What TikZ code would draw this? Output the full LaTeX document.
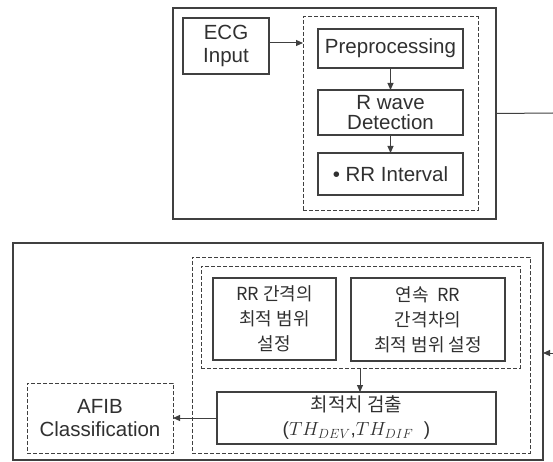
\RequirePackage{fix-cm}
\documentclass[tikz,border=0pt]{standalone}
\usepackage{fontspec}
\setmainfont{Liberation Sans}
\newfontfamily\krfont{Noto Sans CJK KR}
\usetikzlibrary{arrows.meta}
\definecolor{ln}{HTML}{404040}
\definecolor{tx}{HTML}{303030}
\tikzset{
  box/.style={draw=ln, line width=1.1pt, inner sep=0pt, outer sep=0pt, align=center, text=tx,
    font=\fontsize{20.5}{23}\selectfont},
  dbox/.style={box, dashed, dash pattern=on 4pt off 2pt, line width=1pt},
  kr/.style={font=\fontsize{18}{25}\selectfont\krfont},
  arr/.style={draw=ln, line width=1pt, -{Triangle[length=7pt,width=6pt]}},
  ln1/.style={draw=ln, line width=1pt}
}
\begin{document}
\begin{tikzpicture}[x=1pt,y=-1pt]
\useasboundingbox (0,0) rectangle (553,462);
% upper part
\node[box, minimum width=323, minimum height=211] (up) at (334.5,113.5) {};
\node[box, minimum width=86, minimum height=56] (ecg) at (226,46) {ECG\\Input};
\node[dbox, minimum width=175, minimum height=193] (d1) at (390.5,113.5) {};
\node[box, minimum width=145, minimum height=39] (pre) at (390.5,48.5) {Preprocessing};
\node[box, minimum width=145, minimum height=45, font=\fontsize{20.5}{20}\selectfont] (rw) at (390.5,112.5) {R wave\\Detection};
\node[box, minimum width=145, minimum height=42] (rri) at (390.5,174) {• RR Interval};
\draw[arr] ([yshift=3pt]ecg.east) -- ([yshift=3pt]ecg.east -| d1.west);
\draw[arr] (pre.south) -- (rw.north);
\draw[arr] (rw.south) -- (rri.north);
\coordinate (r1) at (553,113);
\draw[ln1] (up.east) -- (r1);
% lower part
\node[box, minimum width=530, minimum height=217] (low) at (278,351.5) {};
\node[dbox, minimum width=146, minimum height=70] (afib) at (100,418) {AFIB\\Classification};
\node[dbox, minimum width=338, minimum height=196] (d2) at (361,355) {};
\node[dbox, minimum width=319, minimum height=102] (d3) at (360.5,317) {};
\node[box, kr, minimum width=123, minimum height=82] (rr) at (274.5,319) {RR 간격의\\최적 범위\\설정};
\node[box, kr, minimum width=154, minimum height=83] (ys) at (428,319.5) {연속\ \ RR\\간격차의\\최적 범위 설정};
\node[box, minimum width=279, minimum height=52, font=\fontsize{19}{24}\selectfont] (opt) at (356.5,418)
  {{\krfont 최적치 검출}\\($TH_{DEV}$,$TH_{DIF}$\ \ )};
\draw[arr] (d3.south -| 360,0) -- (opt.north -| 360,0);
\draw[arr] (opt.west) -- (afib.east);
\coordinate (r2) at (553,353);
\draw[arr] (r2) -- (r2 -| low.east);
\end{tikzpicture}
\end{document}
